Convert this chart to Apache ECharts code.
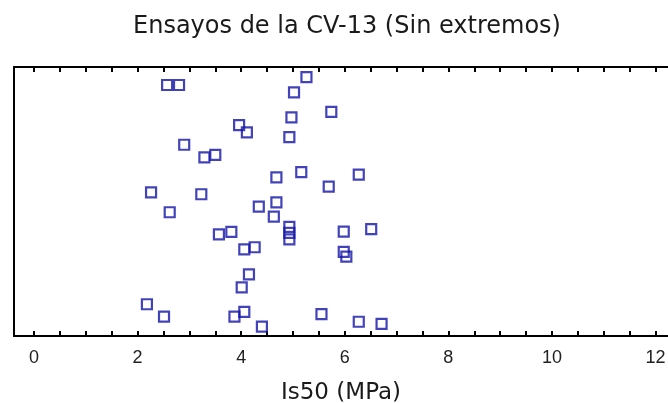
<!DOCTYPE html>
<html>
<head>
<meta charset="utf-8">
<script src="https://cdn.jsdelivr.net/npm/echarts@6/dist/echarts.min.js"></script>
<style>html,body{margin:0;padding:0;background:#fff}#c{width:668px;height:403px}</style>
</head>
<body>
<div id="c"></div>
<script>
// Is50 values (MPa) and vertical jitter positions (0-100)
var is50 = [2.57, 2.80, 5.26, 5.02, 5.74, 4.97, 3.96, 4.11, 4.93, 2.90,
            3.29, 3.50, 5.16, 4.68, 5.69, 2.26, 3.23, 4.68, 4.34, 2.62,
            4.63, 4.93, 4.93, 4.93, 3.57, 3.81, 4.06, 4.26, 4.15, 4.01,
            2.18, 2.51, 3.87, 4.06, 4.40, 5.55, 6.27, 5.98, 6.51, 5.98,
            6.03, 6.27, 6.71];
var jitter = [93.3, 93.3, 96.2, 90.6, 83.3, 81.3, 78.4, 75.7, 73.9, 71.1,
              66.4, 67.3, 60.9, 59.0, 55.5, 53.4, 52.7, 49.7, 48.1, 46.0,
              44.4, 40.6, 38.3, 35.9, 37.8, 38.7, 32.2, 33.0, 22.9, 18.1,
              11.8, 7.2, 7.2, 9.0, 3.5, 8.1, 60.0, 38.8, 39.7, 31.3,
              29.5, 5.3, 4.5];
var labelTicks = [0, 2, 4, 6, 8, 10, 12];
var allTicks = [0, 0.5, 1, 1.5, 2, 2.5, 3, 3.5, 4, 4.5, 5, 5.5, 6, 6.5, 7, 7.5,
                8, 8.5, 9, 9.5, 10, 10.5, 11, 11.5, 12];
var title = 'Ensayos de la CV-13 (Sin extremos)';
var xName = 'Is50 (MPa)';

var points = is50.map(function (v, i) { return [v, jitter[i]]; });

var chart = echarts.init(document.getElementById('c'));
var XMIN = -0.386, XMAX = 12.24;
var frameLine = { show: true, onZero: false, lineStyle: { color: '#000', width: 2 } };
chart.setOption({
  backgroundColor: '#ffffff',
  animation: false,
  title: {
    text: title,
    left: 342, top: 10, textAlign: 'center',
    textStyle: { fontFamily: 'DejaVu Sans', fontSize: 24, fontWeight: 'normal', color: '#1a1a1a' }
  },
  grid: { left: 14, top: 67, right: 0, bottom: 67, show: false,
          containLabel: false, outerBoundsMode: 'none' },
  xAxis: [{
    type: 'value', position: 'bottom', min: XMIN, max: XMAX,
    splitLine: { show: false },
    axisLine: frameLine,
    axisTick: { show: true, inside: true, length: 5, customValues: allTicks,
                lineStyle: { color: '#000', width: 2 } },
    axisLabel: { customValues: labelTicks, margin: 13,
                 fontFamily: 'Liberation Sans', fontSize: 18, color: '#222' },
    name: xName, nameLocation: 'middle', nameGap: 46,
    nameTextStyle: { fontFamily: 'DejaVu Sans', fontSize: 23, color: '#1a1a1a' }
  }, {
    type: 'value', position: 'top', min: XMIN, max: XMAX,
    splitLine: { show: false },
    axisLine: frameLine,
    axisTick: { show: true, inside: true, length: 5, customValues: allTicks,
                lineStyle: { color: '#000', width: 2 } },
    axisLabel: { show: false }
  }],
  yAxis: {
    type: 'value', min: 0, max: 100, position: 'left',
    axisLine: frameLine,
    axisTick: { show: false },
    axisLabel: { show: false },
    splitLine: { show: false }
  },
  series: [{
    type: 'scatter',
    xAxisIndex: 0,
    data: points,
    symbol: 'rect',
    symbolSize: 10,
    itemStyle: { color: 'rgba(0,0,0,0)', borderColor: '#1414a8', borderWidth: 2.2 }
  }]
});
</script>
</body>
</html>
